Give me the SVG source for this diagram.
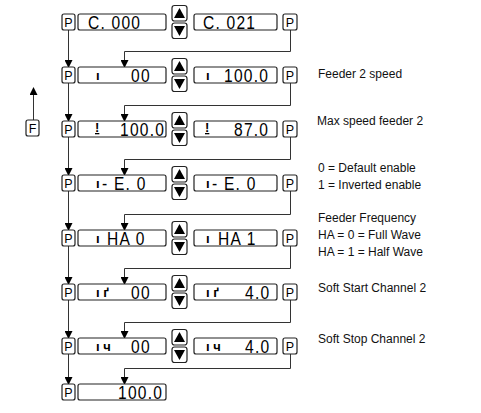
<svg xmlns="http://www.w3.org/2000/svg" width="481" height="413" viewBox="0 0 481 413">
<defs>
<style>
.bx{fill:#fff;stroke:#222;stroke-width:1.2}
.ln{fill:none;stroke:#333;stroke-width:1}
.tri{fill:#000}
.p{font-family:"Liberation Sans",Arial,sans-serif;font-size:12.5px;fill:#000;text-anchor:middle}
.d{font-family:"Liberation Sans",Arial,sans-serif;font-size:19px;letter-spacing:1.5px;fill:#000}
.g{font-family:"Liberation Sans",Arial,sans-serif;font-weight:bold;font-size:13px;fill:#000}
.u{text-decoration:underline}
.lb{font-family:"Liberation Sans",Arial,sans-serif;font-size:12px;fill:#111}
</style>
<marker id="ah" markerWidth="8" markerHeight="8" refX="7" refY="4" orient="auto" markerUnits="userSpaceOnUse">
<path d="M0,0 L8,4 L0,8 Z" fill="#000"/>
</marker>
<g id="btns">
<rect class="bx" x="172" y="-16.5" width="15" height="15.5" rx="2.5"/>
<path class="tri" d="M174,-4 L185,-4 L179.5,-14 Z"/>
<rect class="bx" x="172" y="1" width="15" height="15.5" rx="2.5"/>
<path class="tri" d="M174,4 L185,4 L179.5,14 Z"/>
</g>
</defs>

<g id="connectors">
<path class="ln" d="M68.5,30 V67" marker-end="url(#ah)"/>
<path class="ln" d="M68.5,83 V121" marker-end="url(#ah)"/>
<path class="ln" d="M68.5,137 V175" marker-end="url(#ah)"/>
<path class="ln" d="M68.5,191 V230" marker-end="url(#ah)"/>
<path class="ln" d="M68.5,246 V284" marker-end="url(#ah)"/>
<path class="ln" d="M68.5,300 V338" marker-end="url(#ah)"/>
<path class="ln" d="M68.5,354 V384" marker-end="url(#ah)"/>
<path class="ln" d="M290.5,30 V51.5 H124.5 V67" marker-end="url(#ah)"/>
<path class="ln" d="M290.5,83 V105.5 H124.5 V121" marker-end="url(#ah)"/>
<path class="ln" d="M290.5,137 V159.5 H124.5 V175" marker-end="url(#ah)"/>
<path class="ln" d="M290.5,191 V214.5 H124.5 V230" marker-end="url(#ah)"/>
<path class="ln" d="M290.5,246 V268.5 H124.5 V284" marker-end="url(#ah)"/>
<path class="ln" d="M290.5,300 V322.5 H124.5 V338" marker-end="url(#ah)"/>
<path class="ln" d="M290.5,354 V368.5 H124.5 V384" marker-end="url(#ah)"/>
<path class="ln" d="M33.5,120 V88" marker-end="url(#ah)"/>
</g>

<g id="nF"><rect class="bx" x="26" y="120" width="13" height="16" rx="2"/><text class="p" x="32.5" y="132.5">F</text></g>

<g id="row1" transform="translate(0,22)">
<rect class="bx" x="62" y="-8" width="13" height="16" rx="2"/><text class="p" x="68.5" y="4.5">P</text>
<rect class="bx" x="78" y="-8" width="88" height="16" rx="2"/>
<text class="d" transform="translate(88,6.8) scale(0.82,1)">C.  000</text>
<use href="#btns"/>
<rect class="bx" x="194" y="-8" width="83" height="16" rx="2"/>
<text class="d" transform="translate(203,6.8) scale(0.82,1)">C.  021</text>
<rect class="bx" x="283" y="-8" width="14" height="16" rx="2"/><text class="p" x="290" y="4.5">P</text>
</g>

<g id="row2" transform="translate(0,75)">
<rect class="bx" x="62" y="-8" width="13" height="16" rx="2"/><text class="p" x="68.5" y="4.5">P</text>
<rect class="bx" x="78" y="-8" width="88" height="16" rx="2"/>
<text class="g" x="96" y="5">ı</text><text class="d" transform="translate(131,6.8) scale(0.82,1)">00</text>
<use href="#btns"/>
<rect class="bx" x="194" y="-8" width="83" height="16" rx="2"/>
<text class="g" x="206" y="5">ı</text><text class="d" transform="translate(224,6.8) scale(0.82,1)">100.0</text>
<rect class="bx" x="283" y="-8" width="14" height="16" rx="2"/><text class="p" x="290" y="4.5">P</text>
</g>

<g id="row3" transform="translate(0,129)">
<rect class="bx" x="62" y="-8" width="13" height="16" rx="2"/><text class="p" x="68.5" y="4.5">P</text>
<rect class="bx" x="78" y="-8" width="88" height="16" rx="2"/>
<text class="g u" x="95" y="3">!</text><text class="d" transform="translate(120,6.8) scale(0.82,1)">100.0</text>
<use href="#btns"/>
<rect class="bx" x="194" y="-8" width="83" height="16" rx="2"/>
<text class="g u" x="205" y="3">!</text><text class="d" transform="translate(234,6.8) scale(0.82,1)">87.0</text>
<rect class="bx" x="283" y="-8" width="14" height="16" rx="2"/><text class="p" x="290" y="4.5">P</text>
</g>

<g id="row4" transform="translate(0,183)">
<rect class="bx" x="62" y="-8" width="13" height="16" rx="2"/><text class="p" x="68.5" y="4.5">P</text>
<rect class="bx" x="78" y="-8" width="88" height="16" rx="2"/>
<text class="g" x="96" y="5">ı</text><text class="d" transform="translate(102,6.8) scale(0.82,1)">- E.  0</text>
<use href="#btns"/>
<rect class="bx" x="194" y="-8" width="83" height="16" rx="2"/>
<text class="g" x="206" y="5">ı</text><text class="d" transform="translate(212,6.8) scale(0.82,1)">- E.  0</text>
<rect class="bx" x="283" y="-8" width="14" height="16" rx="2"/><text class="p" x="290" y="4.5">P</text>
</g>

<g id="row5" transform="translate(0,238)">
<rect class="bx" x="62" y="-8" width="13" height="16" rx="2"/><text class="p" x="68.5" y="4.5">P</text>
<rect class="bx" x="78" y="-8" width="88" height="16" rx="2"/>
<text class="g" x="96" y="5">ı</text><text class="d" transform="translate(107,6.8) scale(0.82,1)">HA  0</text>
<use href="#btns"/>
<rect class="bx" x="194" y="-8" width="83" height="16" rx="2"/>
<text class="g" x="206" y="5">ı</text><text class="d" transform="translate(218,6.8) scale(0.82,1)">HA  1</text>
<rect class="bx" x="283" y="-8" width="14" height="16" rx="2"/><text class="p" x="290" y="4.5">P</text>
</g>

<g id="row6" transform="translate(0,292)">
<rect class="bx" x="62" y="-8" width="13" height="16" rx="2"/><text class="p" x="68.5" y="4.5">P</text>
<rect class="bx" x="78" y="-8" width="88" height="16" rx="2"/>
<text class="g" x="96" y="5">ı ґ</text><text class="d" transform="translate(131,6.8) scale(0.82,1)">00</text>
<use href="#btns"/>
<rect class="bx" x="194" y="-8" width="83" height="16" rx="2"/>
<text class="g" x="206" y="5">ı ґ</text><text class="d" transform="translate(245,6.8) scale(0.82,1)">4.0</text>
<rect class="bx" x="283" y="-8" width="14" height="16" rx="2"/><text class="p" x="290" y="4.5">P</text>
</g>

<g id="row7" transform="translate(0,346)">
<rect class="bx" x="62" y="-8" width="13" height="16" rx="2"/><text class="p" x="68.5" y="4.5">P</text>
<rect class="bx" x="78" y="-8" width="88" height="16" rx="2"/>
<text class="g" x="96" y="5">ı ч</text><text class="d" transform="translate(131,6.8) scale(0.82,1)">00</text>
<use href="#btns"/>
<rect class="bx" x="194" y="-8" width="83" height="16" rx="2"/>
<text class="g" x="206" y="5">ı ч</text><text class="d" transform="translate(245,6.8) scale(0.82,1)">4.0</text>
<rect class="bx" x="283" y="-8" width="14" height="16" rx="2"/><text class="p" x="290" y="4.5">P</text>
</g>

<g id="row8" transform="translate(0,392)">
<rect class="bx" x="62" y="-8" width="13" height="16" rx="2"/><text class="p" x="68.5" y="4.5">P</text>
<rect class="bx" x="78" y="-8" width="88" height="16" rx="2"/>
<text class="d" transform="translate(118,6.8) scale(0.82,1)">100.0</text>
</g>

<g id="labels">
<text class="lb" x="318" y="78">Feeder 2 speed</text>
<text class="lb" x="317" y="125">Max speed feeder 2</text>
<text class="lb" x="318" y="172">0 = Default enable</text>
<text class="lb" x="318" y="189">1 = Inverted enable</text>
<text class="lb" x="318" y="222">Feeder Frequency</text>
<text class="lb" x="318" y="239">HA = 0 = Full Wave</text>
<text class="lb" x="318" y="256">HA = 1 = Half Wave</text>
<text class="lb" x="318" y="292">Soft Start Channel 2</text>
<text class="lb" x="318" y="343">Soft Stop Channel 2</text>
</g>
</svg>
